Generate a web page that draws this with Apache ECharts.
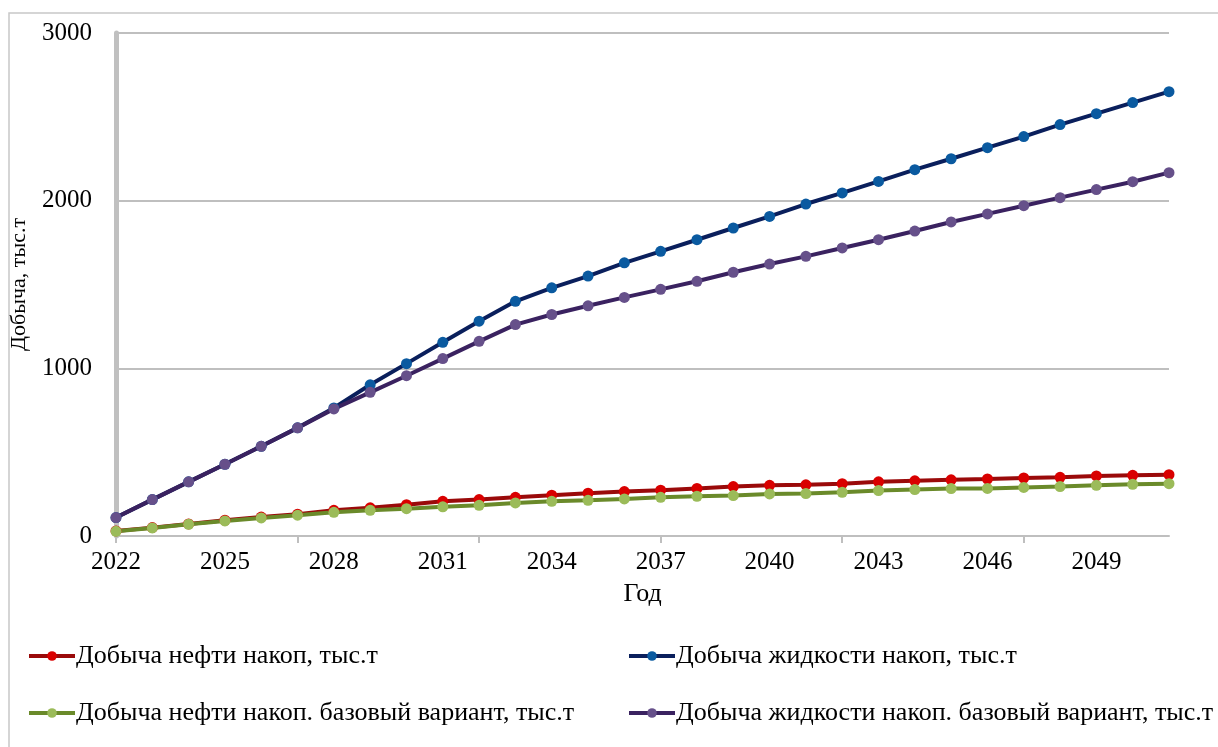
<!DOCTYPE html>
<html>
<head>
<meta charset="utf-8">
<script src="https://cdn.jsdelivr.net/npm/echarts@6/dist/echarts.min.js"></script>
<style>
html,body{margin:0;padding:0;background:#fff;}
#c{width:1218px;height:747px;}
</style>
</head>
<body>
<div id="c"></div>
<script>
var years = ['2022','2023','2024','2025','2026','2027','2028','2029','2030','2031','2032','2033','2034','2035','2036','2037','2038','2039','2040','2041','2042','2043','2044','2045','2046','2047','2048','2049','2050','2051'];
var oilCum = [30,50,72,94,113,130,153,168,187,207,217,231,243,255,265,273,284,295,302,305,312,323,329,335,340,346,350,358,362,366];
var liquidCum = [110,217,323,428,535,645,764,902,1028,1155,1281,1400,1480,1550,1629,1698,1767,1837,1906,1980,2046,2115,2185,2250,2316,2382,2454,2519,2585,2650];
var oilCumBase = [28,48,70,90,108,124,141,153,163,174,183,197,207,213,221,231,237,241,251,253,261,271,277,283,284,290,295,302,308,312];
var liquidCumBase = [110,217,323,428,535,645,758,857,956,1058,1161,1261,1321,1373,1423,1471,1519,1573,1622,1668,1718,1767,1819,1873,1921,1970,2018,2066,2113,2167];
var yTicks = [0,1000,2000,3000];

var names = ['Добыча нефти накоп, тыс.т','Добыча жидкости накоп, тыс.т','Добыча нефти накоп. базовый вариант, тыс.т','Добыча жидкости накоп. базовый вариант, тыс.т'];
var FONT = '"Liberation Serif", "DejaVu Serif", serif';

function mk(name, data, lineColor, markColor){
  return {
    name: name, type: 'line', data: data,
    symbol: 'circle', symbolSize: 11,
    lineStyle: {color: lineColor, width: 4},
    itemStyle: {color: markColor, borderColor: markColor, borderWidth: 0},
    emphasis: {disabled: true}
  };
}

var legendBase = {
  orient: 'vertical', top: 638, itemWidth: 46, itemHeight: 12, itemGap: 31,
  textStyle: {fontFamily: FONT, fontSize: 26, color: '#000', padding: [0,0,0,-4]},
  lineStyle: {width: 4},
  selectedMode: false
};

var chart = echarts.init(document.getElementById('c'), null, {renderer:'canvas'});
chart.setOption({
  animation: false,
  backgroundColor: '#fff',
  graphic: [{
    type: 'rect', shape: {x: 9, y: 13, width: 1240, height: 760},
    style: {fill: 'none', stroke: '#c8c8c8', lineWidth: 1.5}, z: -1, silent: true
  }],
  grid: {left: 114, right: 49, top: 33, bottom: 211, containLabel: false},
  xAxis: {
    type: 'category', data: years, boundaryGap: false,
    name: 'Год', nameLocation: 'middle', nameGap: 45,
    nameTextStyle: {fontFamily: FONT, fontSize: 26, color: '#000'},
    axisLine: {lineStyle: {color: '#bfbfbf', width: 2}},
    axisTick: {show: true, interval: 4, length: 7, lineStyle: {color: '#bfbfbf', width: 2}},
    axisLabel: {interval: 2, fontFamily: FONT, fontSize: 25, color: '#000', margin: 14},
    splitLine: {show: false}
  },
  yAxis: {
    type: 'value', min: yTicks[0], max: yTicks[yTicks.length-1], interval: 1000,
    name: 'Добыча, тыс.т', nameLocation: 'middle', nameGap: 86, nameRotate: 90,
    nameTextStyle: {fontFamily: FONT, fontSize: 22, color: '#000'},
    axisLine: {show: true, lineStyle: {color: '#c0c0c0', width: 5}},
    axisTick: {show: false},
    axisLabel: {fontFamily: FONT, fontSize: 25, color: '#000', margin: 24,
      formatter: function(v){ return String(v); }},
    splitLine: {lineStyle: {color: '#bfbfbf', width: 2}}
  },
  legend: [
    Object.assign({}, legendBase, {left: 22, data: [names[0], names[2]]}),
    Object.assign({}, legendBase, {left: 622, data: [names[1], names[3]]})
  ],
  series: [
    mk(names[0], oilCum, '#9a0a0a', '#d90000'),
    mk(names[1], liquidCum, '#0a1f5c', '#0a5aa0'),
    mk(names[2], oilCumBase, '#6a8a2a', '#9bbb59'),
    mk(names[3], liquidCumBase, '#3a2260', '#66508a')
  ]
});
</script>
</body>
</html>
